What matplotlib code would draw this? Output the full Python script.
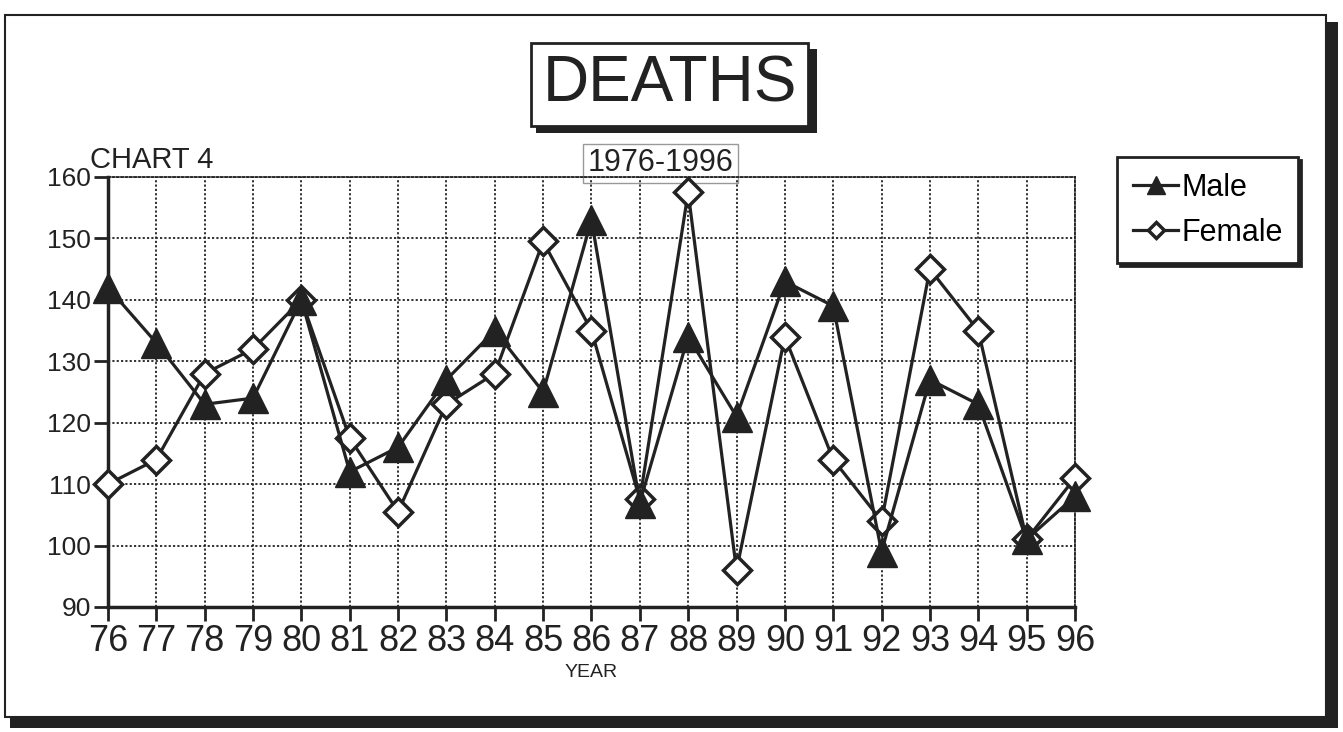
import matplotlib
matplotlib.use("Agg")
import matplotlib.pyplot as plt
from matplotlib.patches import Rectangle

plt.rcParams['font.family'] = ['Liberation Sans', 'DejaVu Sans']

# data
years = list(range(76, 97))
year_labels = [str(y) for y in years]
male = [142, 133, 123, 124, 140, 112, 116, 127, 135, 125, 153,
        107, 134, 121, 143, 139, 99, 127, 123, 101, 108]
female = [110, 114, 128, 132, 140, 117.5, 105.5, 123, 128, 149.5, 135,
          107.5, 157.5, 96, 134, 114, 104, 145, 135, 101, 111]
y_ticks = [90, 100, 110, 120, 130, 140, 150, 160]

fig = plt.figure(figsize=(13.43, 7.32), dpi=100)
fig.patch.set_facecolor('white')

# outer frame with shadow
fig.patches.append(Rectangle((0.0072, 0.005), 0.989, 0.965, transform=fig.transFigure,
                             facecolor='#222222', edgecolor='none', zorder=0))
fig.patches.append(Rectangle((0.004, 0.02), 0.983, 0.96, transform=fig.transFigure,
                             facecolor='white', edgecolor='#222222', lw=1.5, zorder=1))

ax = fig.add_axes([0.0804, 0.1708, 0.72, 0.5874])
ax.set_zorder(2)
ax.patch.set_alpha(0)

ax.plot(years, female, color='#222222', lw=2.3, marker='D', markersize=14,
        markerfacecolor='white', markeredgecolor='#222222', markeredgewidth=2.5,
        label='Female', zorder=3, clip_on=False)
ax.plot(years, male, color='#222222', lw=2.3, marker='^', markersize=21,
        markerfacecolor='#222222', markeredgecolor='#222222',
        label='Male', zorder=4, clip_on=False)

ax.set_xlim(76, 96)
ax.set_ylim(90, 160)
ax.set_xticks(years)
ax.set_xticklabels(year_labels, fontsize=26, color='#222222')
ax.set_yticks(y_ticks)
ax.set_yticklabels([str(v) for v in y_ticks], fontsize=19, color='#222222')
ax.tick_params(axis='both', direction='out', length=10, width=2, color='#222222')
ax.tick_params(axis='x', pad=2)
ax.tick_params(axis='y', pad=2)

ax.grid(True, color='#222222', linestyle=(0, (1.2, 1.2)), linewidth=1.3)
for s in ['left', 'bottom']:
    ax.spines[s].set_linewidth(2.5)
    ax.spines[s].set_color('#222222')
for s in ['top', 'right']:
    ax.spines[s].set_linewidth(1.3)
    ax.spines[s].set_linestyle((0, (1.2, 1.2)))
    ax.spines[s].set_color('#222222')

ax.set_xlabel('YEAR', fontsize=14, color='#222222', labelpad=4)

# legend
handles, labels = ax.get_legend_handles_labels()
leg = fig.legend(handles[::-1], labels[::-1], loc='upper left',
                 bbox_to_anchor=(0.832, 0.785), borderaxespad=0, fontsize=22,
                 frameon=True, fancybox=False, shadow={'color': '#222222', 'alpha': 1},
                 handlelength=1.5, handletextpad=0.1, borderpad=0.5,
                 labelspacing=0.5, markerscale=0.6)
leg.get_frame().set_edgecolor('#222222')
leg.get_frame().set_linewidth(2)

# title box with drop shadow
fig.text(0.4985, 0.884, 'DEATHS', fontsize=46, ha='center', va='center', color='#222222',
         bbox=dict(boxstyle='square,pad=0.18', facecolor='white', edgecolor='#222222', lw=2))
fig.patches.append(Rectangle((0.399, 0.818), 0.209, 0.009, transform=fig.transFigure,
                             facecolor='#222222', edgecolor='none', zorder=1))
fig.patches.append(Rectangle((0.6015, 0.818), 0.0065, 0.115, transform=fig.transFigure,
                             facecolor='#222222', edgecolor='none', zorder=1))

fig.text(0.492, 0.777, '1976-1996', fontsize=22, ha='center', va='center', color='#222222',
         zorder=1.5,
         bbox=dict(boxstyle='square,pad=0.15', facecolor='white', edgecolor='#999999', lw=1))

fig.text(0.067, 0.781, 'CHART 4', fontsize=21, ha='left', va='center', color='#222222')

fig.savefig('out.png', dpi=100)
